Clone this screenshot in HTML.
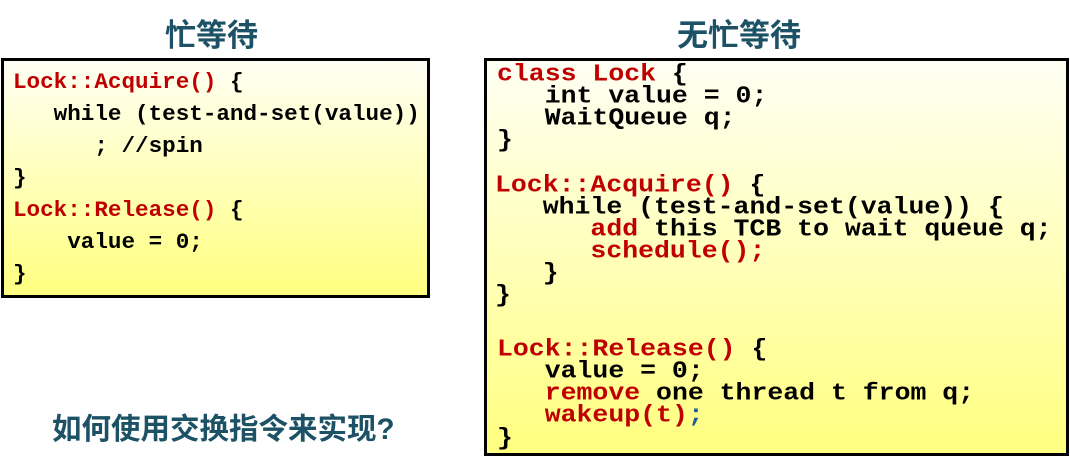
<!DOCTYPE html>
<html><head><meta charset="utf-8"><style>
body{margin:0;width:1070px;height:460px;background:#fff;position:relative;overflow:hidden}
.t{position:absolute;font-family:"Liberation Sans","Noto Sans CJK SC",sans-serif;font-weight:bold;color:#1d5266;white-space:nowrap}
.box{position:absolute;border:3px solid #000;box-sizing:border-box;background:linear-gradient(#fffff4,#ffff80)}
.l{position:absolute;font-family:"Liberation Mono",monospace;font-weight:bold;white-space:pre;color:#000;line-height:1}
.r{color:#c00000}.b{color:#1f5f8f}
.L .l{font-size:22.6px}
.R .l{font-size:26.5px;transform:scaleY(0.92);transform-origin:0 50%}
</style></head><body>
<div class="t" style="left:165px;top:10px;font-size:31px">忙等待</div>
<div class="t" style="left:677px;top:10px;font-size:31px">无忙等待</div>
<div class="t" style="left:52px;top:406px;font-size:29.5px">如何使用交换指令来实现?</div>

<div class="box L" style="left:1px;top:58px;width:429px;height:240px"></div>
<div class="L">
<div class="l" style="left:13px;top:71px"><span class="r">Lock::Acquire()</span> {</div>
<div class="l" style="left:13px;top:103px">   while (test-and-set(value))</div>
<div class="l" style="left:13px;top:135px">      ; //spin</div>
<div class="l" style="left:13px;top:167px">}</div>
<div class="l" style="left:13px;top:199px"><span class="r">Lock::Release()</span> {</div>
<div class="l" style="left:13px;top:231px">    value = 0;</div>
<div class="l" style="left:13px;top:263px">}</div>
</div>

<div class="box R" style="left:484px;top:58px;width:585px;height:398px"></div>
<div class="R">
<div class="l" style="left:497px;top:61px"><span class="r">class Lock</span> {</div>
<div class="l" style="left:497px;top:83px">   int value = 0;</div>
<div class="l" style="left:497px;top:105px">   WaitQueue q;</div>
<div class="l" style="left:497px;top:127px">}</div>
<div class="l" style="left:495px;top:172px"><span class="r">Lock::Acquire()</span> {</div>
<div class="l" style="left:495px;top:194px">   while (test-and-set(value)) {</div>
<div class="l" style="left:495px;top:216px">      <span class="r">add</span> this TCB to wait queue q;</div>
<div class="l" style="left:495px;top:238px">      <span class="r">schedule();</span></div>
<div class="l" style="left:495px;top:260px">   }</div>
<div class="l" style="left:495px;top:282px">}</div>
<div class="l" style="left:497px;top:336px"><span class="r">Lock::Release()</span> {</div>
<div class="l" style="left:497px;top:358px">   value = 0;</div>
<div class="l" style="left:497px;top:380px">   <span class="r">remove</span> one thread t from q;</div>
<div class="l" style="left:497px;top:402px">   <span class="r">wakeup(t)</span><span class="b">;</span></div>
<div class="l" style="left:497px;top:425px">}</div>
</div>
</body></html>
